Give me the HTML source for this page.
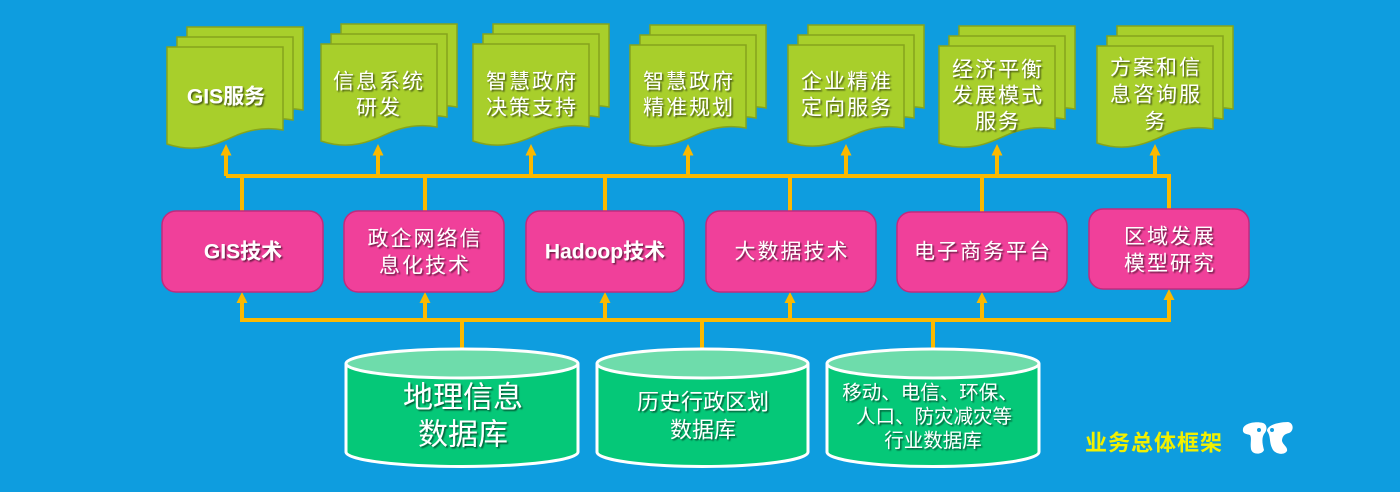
<!DOCTYPE html>
<html><head><meta charset="utf-8">
<style>
html,body{margin:0;padding:0;background:#0e9ddf;}
svg{display:block;}
text{font-family:"Liberation Sans","Noto Sans CJK SC",sans-serif;fill:#fff;}
</style></head>
<body>
<svg width="1400" height="492" viewBox="0 0 1400 492" xmlns="http://www.w3.org/2000/svg">
<defs>
<filter id="sh" x="-10%" y="-30%" width="120%" height="160%">
<feDropShadow dx="1.5" dy="1.5" stdDeviation="0.8" flood-color="#000" flood-opacity="0.55"/>
</filter>
<path id="doc" d="M0,0 H116 V83 C100,80 85,82 70,88 C50,97 30,107 0,97 Z"/>
</defs>
<rect width="1400" height="492" fill="#0e9ddf"/>

<!-- documents -->
<g fill="#a8cf2b" stroke="#86a41c" stroke-width="1.5">
<g transform="translate(167,47)"><use href="#doc" x="20" y="-20"/><use href="#doc" x="10" y="-10"/><use href="#doc"/></g>
<g transform="translate(321,44)"><use href="#doc" x="20" y="-20"/><use href="#doc" x="10" y="-10"/><use href="#doc"/></g>
<g transform="translate(473,44)"><use href="#doc" x="20" y="-20"/><use href="#doc" x="10" y="-10"/><use href="#doc"/></g>
<g transform="translate(630,45)"><use href="#doc" x="20" y="-20"/><use href="#doc" x="10" y="-10"/><use href="#doc"/></g>
<g transform="translate(788,45)"><use href="#doc" x="20" y="-20"/><use href="#doc" x="10" y="-10"/><use href="#doc"/></g>
<g transform="translate(939,46)"><use href="#doc" x="20" y="-20"/><use href="#doc" x="10" y="-10"/><use href="#doc"/></g>
<g transform="translate(1097,46)"><use href="#doc" x="20" y="-20"/><use href="#doc" x="10" y="-10"/><use href="#doc"/></g>
</g>

<!-- connectors -->
<g stroke="#fbb900" stroke-width="4" fill="none">
<path d="M226,176 H1169 V209"/>
<path d="M226,154 V176 M378,154 V176 M531,154 V176 M688,154 V176 M846,154 V176 M997,154 V176 M1155,154 V176"/>
<path d="M242,176 V211 M425,176 V211 M605,176 V211 M790,176 V211 M982,176 V212"/>
<path d="M242,301 V320 H1169 V298"/>
<path d="M425,301 V320 M605,301 V320 M790,301 V320 M982,301 V320"/>
<path d="M462,320 V349 M702,320 V349 M933,320 V349"/>
</g>
<g fill="#fbb900">
<path d="M220.5,155.5 L226,144 L231.5,155.5 Z"/>
<path d="M372.5,155.5 L378,144 L383.5,155.5 Z"/>
<path d="M525.5,155.5 L531,144 L536.5,155.5 Z"/>
<path d="M682.5,155.5 L688,144 L693.5,155.5 Z"/>
<path d="M840.5,155.5 L846,144 L851.5,155.5 Z"/>
<path d="M991.5,155.5 L997,144 L1002.5,155.5 Z"/>
<path d="M1149.5,155.5 L1155,144 L1160.5,155.5 Z"/>
<path d="M236.5,303 L242,292 L247.5,303 Z"/>
<path d="M419.5,303 L425,292 L430.5,303 Z"/>
<path d="M599.5,303 L605,292 L610.5,303 Z"/>
<path d="M784.5,303 L790,292 L795.5,303 Z"/>
<path d="M976.5,303 L982,292 L987.5,303 Z"/>
<path d="M1163.5,300 L1169,289 L1174.5,300 Z"/>
</g>

<!-- pink boxes -->
<g fill="#f0409a" stroke="#c22a7d" stroke-width="1.5">
<rect x="162" y="211" width="161" height="81" rx="14"/>
<rect x="344" y="211" width="160" height="81" rx="14"/>
<rect x="526" y="211" width="158" height="81" rx="14"/>
<rect x="706" y="211" width="170" height="81" rx="14"/>
<rect x="897" y="212" width="170" height="80" rx="14"/>
<rect x="1089" y="209" width="160" height="80" rx="14"/>
</g>

<!-- cylinders -->
<g stroke="#fff" stroke-width="3">
<path d="M346,363.5 V452 A116,14.5 0 0 0 578,452 V363.5" fill="#05c878"/>
<ellipse cx="462" cy="363.5" rx="116" ry="14.5" fill="#6edcab"/>
<path d="M597,363.5 V452 A105.5,14.5 0 0 0 808,452 V363.5" fill="#05c878"/>
<ellipse cx="702.5" cy="363.5" rx="105.5" ry="14.5" fill="#6edcab"/>
<path d="M827,363.5 V452 A106,14.5 0 0 0 1039,452 V363.5" fill="#05c878"/>
<ellipse cx="933" cy="363.5" rx="106" ry="14.5" fill="#6edcab"/>
</g>

<!-- text -->
<g filter="url(#sh)" text-anchor="middle" dominant-baseline="central">
<!-- docs -->
<text x="226" y="97" font-size="21" font-weight="bold">GIS服务</text>
<text x="379" y="82" font-size="21" letter-spacing="2">信息系统</text>
<text x="379" y="108" font-size="21" letter-spacing="2">研发</text>
<text x="532" y="82" font-size="21" letter-spacing="2">智慧政府</text>
<text x="532" y="108" font-size="21" letter-spacing="2">决策支持</text>
<text x="689" y="82" font-size="21" letter-spacing="2">智慧政府</text>
<text x="689" y="108" font-size="21" letter-spacing="2">精准规划</text>
<text x="847" y="82" font-size="21" letter-spacing="2">企业精准</text>
<text x="847" y="108" font-size="21" letter-spacing="2">定向服务</text>
<text x="998" y="70" font-size="21" letter-spacing="2">经济平衡</text>
<text x="998" y="96" font-size="21" letter-spacing="2">发展模式</text>
<text x="998" y="122" font-size="21" letter-spacing="2">服务</text>
<text x="1156" y="68" font-size="21" letter-spacing="2">方案和信</text>
<text x="1156" y="95" font-size="21" letter-spacing="2">息咨询服</text>
<text x="1156" y="122" font-size="21" letter-spacing="2">务</text>
<!-- boxes -->
<text x="243" y="252" font-size="21" font-weight="bold">GIS技术</text>
<text x="425" y="239" font-size="21" letter-spacing="2">政企网络信</text>
<text x="425" y="266" font-size="21" letter-spacing="2">息化技术</text>
<text x="605" y="252" font-size="21" font-weight="bold">Hadoop技术</text>
<text x="792" y="252" font-size="21" letter-spacing="2">大数据技术</text>
<text x="983" y="252" font-size="21" letter-spacing="2">电子商务平台</text>
<text x="1170" y="237" font-size="21" letter-spacing="2">区域发展</text>
<text x="1170" y="264" font-size="21" letter-spacing="2">模型研究</text>
<!-- cylinders -->
<text x="463" y="398" font-size="30">地理信息</text>
<text x="463" y="435" font-size="30">数据库</text>
<text x="703" y="402" font-size="22">历史行政区划</text>
<text x="703" y="430" font-size="22">数据库</text>
<text x="930" y="393" font-size="19.5">移动、电信、环保、</text>
<text x="934" y="417" font-size="19.5">人口、防灾减灾等</text>
<text x="933" y="441" font-size="19.5">行业数据库</text>
</g>

<text x="1154" y="443" font-size="22" font-weight="bold" text-anchor="middle" dominant-baseline="central" letter-spacing="1" style="fill:#f2f000">业务总体框架</text>

<!-- logo -->
<g fill="#fff">
<path d="M1243,429 C1244,423 1256,421 1263,423 C1268,425 1267,431 1264,434 C1261,439 1263,446 1264,450 C1262,455 1252,455 1251,449 C1250,443 1252,438 1250,435 C1247,434 1242,434 1243,429 Z"/>
<path d="M1267,431 C1267,425 1279,422 1288,422 C1294,423 1294,431 1289,433 C1284,434 1282,437 1282,441 C1283,445 1288,447 1287,451 C1284,456 1274,454 1272,448 C1269,442 1271,436 1267,431 Z"/>
</g>
<circle cx="1259" cy="430" r="2" fill="#0e9ddf"/>
<circle cx="1272" cy="430" r="2" fill="#0e9ddf"/>
</svg>
</body></html>
